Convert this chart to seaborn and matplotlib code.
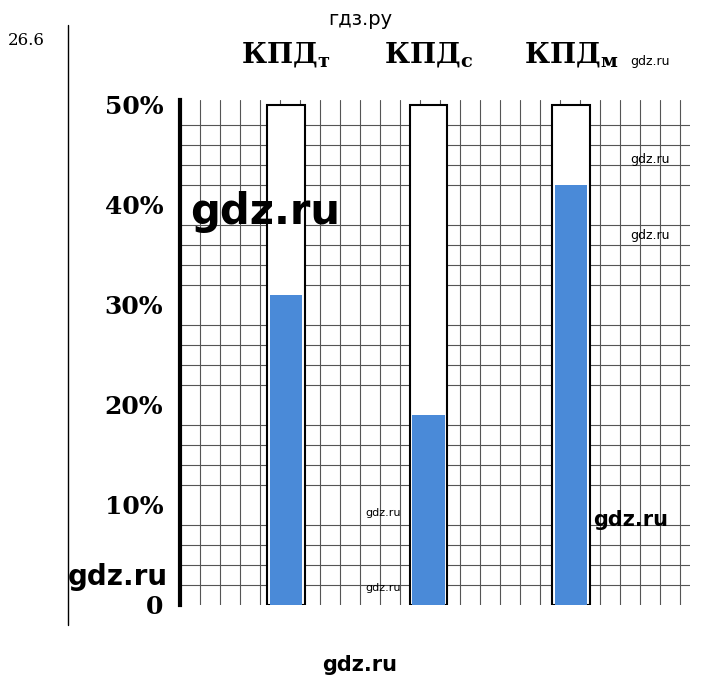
import matplotlib
matplotlib.use("Agg")
import matplotlib.pyplot as plt
import seaborn as sns
import numpy as np
import pandas as pd

categories = ["т", "с", "м"]
values = [31, 19, 42]
ytick_vals = [0, 10, 20, 30, 40, 50]
ytick_labels = ["0", "10%", "20%", "30%", "40%", "50%"]

sns.set_style("white")
plt.rcParams['font.family'] = ['DejaVu Serif', 'DejaVu Sans']
plt.rcParams['text.color'] = 'black'
plt.rcParams['ytick.color'] = 'black'
plt.rcParams['ytick.labelcolor'] = 'black'

fig = plt.figure(figsize=(7.2, 6.82), dpi=100)
ax = fig.add_axes([180/720, 1-605/682, 510/720, 505/682])
df = pd.DataFrame({"cat": categories, "val": values, "full": [50]*3})

sns.barplot(data=df, x="cat", y="full", color="white", edgecolor="black",
            linewidth=1.5, width=0.26, ax=ax, zorder=3, saturation=1)
sns.barplot(data=df, x="cat", y="val", color="#4a8ad8", edgecolor="none",
            width=0.23, ax=ax, zorder=4, saturation=1)

ax.set_xlim(-0.744, 2.835)
ax.set_ylim(0, 50.5)
ax.set_xticks(np.arange(-0.744, 2.84, 0.1404), minor=True)
ax.set_xticks([])
ax.set_yticks(np.arange(0, 50.6, 2), minor=True)
ax.set_yticks(ytick_vals)
ax.set_yticklabels(ytick_labels, fontsize=18, fontweight="bold")
ax.tick_params(axis="y", length=0, pad=12)
ax.grid(which="minor", color="#555555", linewidth=0.8, zorder=0)
ax.set_axisbelow(True)
ax.set_xlabel("")
ax.set_ylabel("")
for s in ["top", "right", "bottom"]:
    ax.spines[s].set_visible(False)
ax.spines["left"].set_linewidth(3)
ax.spines["left"].set_color("black")

for i, c in enumerate(categories):
    ax.text(i, 53.5, "КПД$_\\mathregular{" + c + "}$", ha="center", va="bottom",
            fontsize=20, fontweight="bold")

fig.text(0.5, 0.985, "гдз.ру", ha="center", va="top", fontsize=14, family="DejaVu Sans")
fig.text(0.5, 0.01, "gdz.ru", ha="center", va="bottom", fontsize=15, fontweight="bold", family="DejaVu Sans")
fig.text(8/720, 1-45/682, "26.6", fontsize=12)
fig.add_artist(plt.Line2D([68/720, 68/720], [1-25/682, 1-625/682], color="black", lw=1))
fig.text(190/720, 1-212/682, "gdz.ru", fontsize=30, fontweight="bold", family="DejaVu Sans", va="center")
fig.text(68/720, 1-577/682, "gdz.ru", fontsize=20, fontweight="bold", family="DejaVu Sans", va="center")
fig.text(593/720, 1-520/682, "gdz.ru", fontsize=15, fontweight="bold", family="DejaVu Sans", va="center")
for (x, y) in [(630, 62), (630, 160), (630, 235)]:
    fig.text(x/720, 1-y/682, "gdz.ru", fontsize=9, family="DejaVu Sans", va="center")
for (x, y) in [(365, 513), (365, 588)]:
    fig.text(x/720, 1-y/682, "gdz.ru", fontsize=8, family="DejaVu Sans", va="center")

fig.savefig("out.png", dpi=100)
